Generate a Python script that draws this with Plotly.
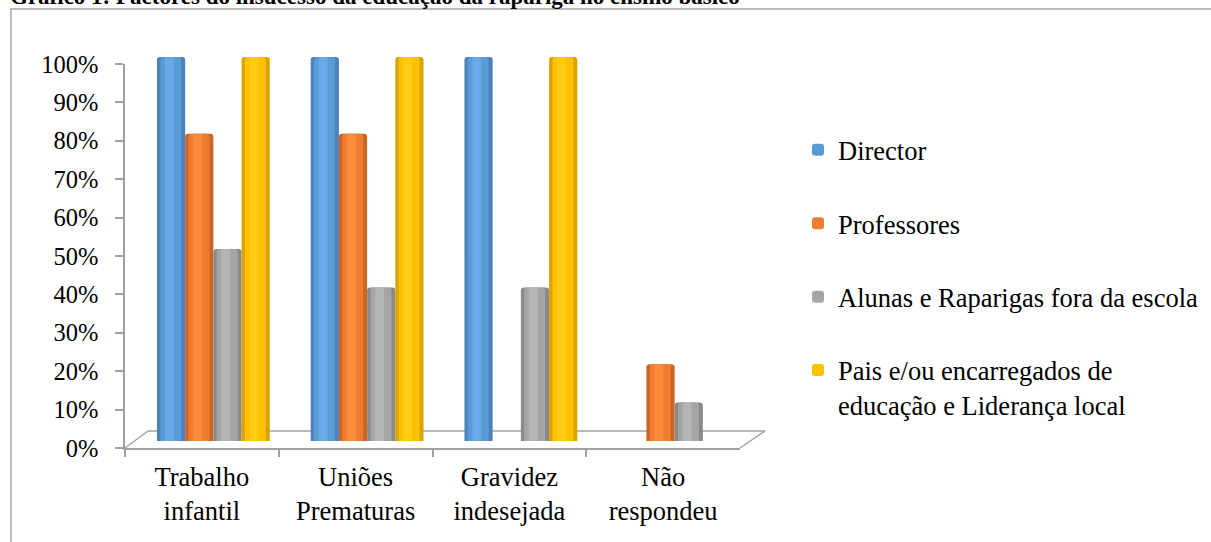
import plotly.graph_objects as go

# ---------------- data ----------------
categories = ["Trabalho<br>infantil", "Uniões<br>Prematuras", "Gravidez<br>indesejada", "Não<br>respondeu"]
series_names = ["Director", "Professores", "Alunas e Raparigas fora da escola",
                "Pais e/ou encarregados de<br>educação e Liderança local"]
director = [1.00, 1.00, 1.00, 0.00]
professores = [0.80, 0.80, 0.00, 0.20]
alunas = [0.50, 0.40, 0.40, 0.10]
pais = [1.00, 1.00, 1.00, 0.00]
series_values = [director, professores, alunas, pais]
colors = ["#5B9BD5", "#ED7D31", "#A5A5A5", "#FFC000"]
dark_colors = ["#4A83BC", "#CC6425", "#8A8A8A", "#D9A300"]
light_colors = ["#67AAE7", "#FC8C3A", "#B5B5B5", "#FFCB14"]
y_ticks = [0, 0.1, 0.2, 0.3, 0.4, 0.5, 0.6, 0.7, 0.8, 0.9, 1.0]
title_text = "Gráfico 1: Factores do insucesso da educação da rapariga no ensino básico"

# ---------------- layout helpers ----------------
W, H = 1211, 542
FONT = "Liberation Serif, Times New Roman, serif"
AXIS_GRAY = "#A0A0A0"


def px_x(p):
    return p / W


def px_y(p):
    return 1 - p / H


fig = go.Figure()

bar_w = 0.1835
for i, (name, vals) in enumerate(zip(series_names, series_values)):
    off = -2 * bar_w + i * bar_w
    # cylinder shading: dark outer body, main colour, light centre
    layers = [
        (dark_colors[i], off, bar_w, False),
        (colors[i], off + 0.12 * bar_w, 0.74 * bar_w, True),
        (light_colors[i], off + 0.28 * bar_w, 0.32 * bar_w, False),
    ]
    for col, o, w, show in layers:
        fig.add_trace(go.Bar(
            x=categories, y=vals, name=name,
            xaxis="x2", yaxis="y2",
            width=w, offset=o,
            marker=dict(color=col, line=dict(width=0), cornerradius=3),
            legendgroup=str(i), showlegend=show,
            hoverinfo="name+y",
        ))

# invisible trace to set up the visible category axis
fig.add_trace(go.Scatter(x=categories, y=[None] * len(categories), xaxis="x", yaxis="y",
                         showlegend=False, hoverinfo="skip"))

fig.update_layout(
    width=W, height=H,
    margin=dict(l=0, r=0, t=0, b=0, autoexpand=False),
    paper_bgcolor="white", plot_bgcolor="rgba(0,0,0,0)",
    font=dict(family=FONT, size=24, color="black"),
    barmode="overlay",
    showlegend=True,
    legend=dict(
        x=px_x(798), y=px_y(126), xanchor="left", yanchor="top",
        font=dict(family=FONT, size=26.5, color="black"),
        tracegroupgap=36, valign="top",
        bgcolor="rgba(0,0,0,0)",
    ),
    xaxis=dict(
        domain=[px_x(125), px_x(740)], anchor="y",
        type="category", range=[-0.5, 3.5],
        tickson="boundaries", ticks="outside", ticklen=7, tickcolor=AXIS_GRAY, tickwidth=1.5,
        showline=True, linecolor=AXIS_GRAY, linewidth=1.5,
        showgrid=False, zeroline=False,
        tickfont=dict(family=FONT, size=26.5, color="black"),
        ticklabelstandoff=4,
    ),
    yaxis=dict(
        domain=[px_y(448), px_y(64)], anchor="x",
        range=[0, 1], tickvals=y_ticks, tickformat=".0%",
        ticks="outside", ticklen=8, tickcolor=AXIS_GRAY, tickwidth=1.5,
        showline=True, linecolor=AXIS_GRAY, linewidth=1.5,
        showgrid=False, zeroline=False,
        tickfont=dict(family=FONT, size=24.5, color="black"),
        ticklabelstandoff=12,
    ),
    xaxis2=dict(
        domain=[px_x(136.5), px_x(751.5)], anchor="y2",
        type="category", range=[-0.5, 3.5], visible=False,
    ),
    yaxis2=dict(
        domain=[px_y(441), px_y(57)], anchor="x2",
        range=[0, 1], visible=False,
    ),
)

# outer chart border (top and left edges visible in the crop)
fig.add_shape(type="rect", xref="paper", yref="paper",
              x0=px_x(11), x1=px_x(1240), y0=px_y(560), y1=px_y(9),
              line=dict(color="#A6A6A6", width=1.5), fillcolor="rgba(0,0,0,0)", layer="below")

# 3-D floor outline
floor_lines = [
    (125, 448, 148, 431),
    (148, 431, 765, 431),
    (740, 448, 765, 431),
]
for x0, y0, x1, y1 in floor_lines:
    fig.add_shape(type="line", xref="paper", yref="paper",
                  x0=px_x(x0), y0=px_y(y0), x1=px_x(x1), y1=px_y(y1),
                  line=dict(color=AXIS_GRAY, width=1.5), layer="below")

# title (cropped at the top of the picture)
fig.add_annotation(text="<b>" + title_text + "</b>", xref="paper", yref="paper",
                   x=px_x(8), y=px_y(-3.5), xanchor="left", yanchor="middle",
                   showarrow=False, font=dict(family=FONT, size=23, color="black"))

fig.write_html("out.html")
